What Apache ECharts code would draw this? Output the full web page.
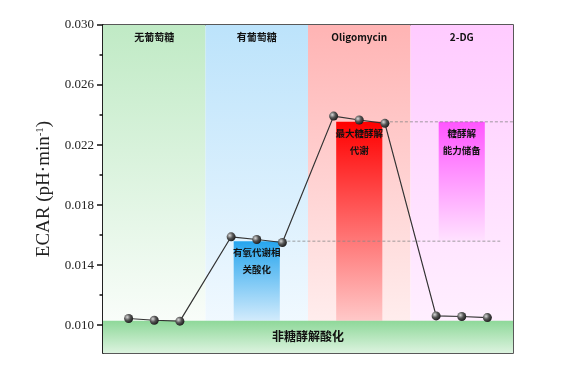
<!DOCTYPE html>
<html><head><meta charset="utf-8">
<script src="https://cdn.jsdelivr.net/npm/echarts@6/dist/echarts.min.js"></script>
<style>html,body{margin:0;padding:0;background:#fff}#c{width:567px;height:378px}</style>
</head><body><div id="c"></div>
<script>
// ---- data ----
const phases = ['无葡萄糖', '有葡萄糖', 'Oligomycin', '2-DG'];
const ecar = [0.01045, 0.01033, 0.01027, 0.01589, 0.01571, 0.01551, 0.02393, 0.02367, 0.02345, 0.01062, 0.01058, 0.01051];
const nonGlycolytic = 0.0103;
const glycolysis = 0.0156;
const maxCapacity = 0.02355;
const yTicks = [0.010, 0.014, 0.018, 0.022, 0.026, 0.030];
const yMinorTicks = [0.012, 0.016, 0.020, 0.024, 0.028];
const barPhases = [1, 2, 3];
const barLows = [nonGlycolytic, nonGlycolytic, glycolysis];
const barHighs = [glycolysis, maxCapacity, maxCapacity];
const barLabels = ['有氧代谢相\n关酸化', '最大糖酵解\n代谢', '糖酵解\n能力储备'];
const bandLabel = '非糖酵解酸化';
const yMin = 0.00815, yMax = 0.030;

// ---- layout helpers ----
const perPhase = 3, slot = 4;
const xOf = i => Math.floor(i / perPhase) * slot + (i % perPhase) + 1;
const xEnd = phases.length * slot;
const grad = (a, b) => new echarts.graphic.LinearGradient(0, 0, 0, 1, [{offset: 0, color: a}, {offset: 1, color: b}]);
const regionColors = [['#c0eac5', '#ffffff'], ['#bce3fb', '#f6fbff'], ['#ffb4b4', '#fff3f3'], ['#ffcbff', '#fff3ff']];
const barColors = [['#26a5ee', '#d2ebfc'], ['#ff0000', '#ffc8c8'], ['#ff55ff', '#ffe2ff']];
const cjk = '"Noto Sans CJK SC", "Noto Sans", sans-serif';
const serif = '"Liberation Serif", "Times New Roman", serif';

const chart = echarts.init(document.getElementById('c'));
chart.setOption({
  animation: false,
  grid: {left: 103, right: 54, top: 25, bottom: 25, show: true, borderColor: '#222', borderWidth: 1.5, backgroundColor: 'transparent'},
  xAxis: {type: 'value', min: 0, max: xEnd, show: false},
  yAxis: [{
    type: 'value', min: yMin, max: yMax, position: 'left',
    axisLine: {show: true, lineStyle: {color: '#111', width: 1.5}},
    axisTick: {show: true, inside: false, length: 6, lineStyle: {color: '#111', width: 1.5}, customValues: yTicks},
    axisLabel: {customValues: yTicks, formatter: v => v.toFixed(3), fontFamily: serif, fontSize: 13, color: '#222', margin: 9},
    splitLine: {show: false},
    name: '{a|ECAR (pH·min}{s|-1}{a|)}', nameLocation: 'middle', nameGap: 42,
    nameTextStyle: {rich: {a: {fontFamily: serif, fontSize: 19, color: '#222'}, s: {fontFamily: serif, fontSize: 11, color: '#222', verticalAlign: 'top', padding: [0, 0, 9, 0]}}}
  }, {
    type: 'value', min: yMin, max: yMax, position: 'left', offset: 0,
    axisLine: {show: false},
    axisTick: {show: true, inside: false, length: 3.5, lineStyle: {color: '#111', width: 1.5}, customValues: yMinorTicks},
    axisLabel: {show: false}, splitLine: {show: false}
  }],
  series: [
    {
      type: 'custom', z: 1, data: phases.map((p, i) => [i]),
      renderItem: (params, api) => {
        const i = api.value(0);
        const p0 = api.coord([i * slot, yMax]), p1 = api.coord([(i + 1) * slot, yMin]);
        return {type: 'group', children: [
          {type: 'rect', shape: {x: p0[0], y: p0[1], width: p1[0] - p0[0], height: p1[1] - p0[1]}, style: {fill: grad(regionColors[i][0], regionColors[i][1])}},
          {type: 'text', z2: 10, style: {text: phases[i], x: (p0[0] + p1[0]) / 2, y: p0[1] + 12, align: 'center', verticalAlign: 'middle', fontSize: 10, fontWeight: 'bold', fontFamily: cjk, fill: '#111'}}
        ]};
      }
    },
    {
      type: 'custom', z: 2, data: barPhases.map((p, i) => [p, barLows[i], barHighs[i], i]),
      renderItem: (params, api) => {
        const ph = api.value(0), k = api.value(3);
        const c = ph * slot + slot / 2;
        const p0 = api.coord([c - 0.9, api.value(2)]), p1 = api.coord([c + 0.9, api.value(1)]);
        return {type: 'group', children: [
          {type: 'rect', shape: {x: p0[0], y: p0[1], width: p1[0] - p0[0], height: p1[1] - p0[1]}, style: {fill: grad(barColors[k][0], barColors[k][1])}},
          {type: 'text', z2: 10, style: {text: barLabels[k], x: (p0[0] + p1[0]) / 2, y: p0[1] + 3, align: 'center', verticalAlign: 'top', fontSize: 9.5, lineHeight: 17, fontWeight: 'bold', fontFamily: cjk, fill: '#111'}}
        ]};
      }
    },
    {
      type: 'custom', z: 3, data: [[nonGlycolytic]],
      renderItem: (params, api) => {
        const p0 = api.coord([0, api.value(0)]), p1 = api.coord([xEnd, yMin]);
        return {type: 'group', children: [
          {type: 'rect', shape: {x: p0[0], y: p0[1], width: p1[0] - p0[0], height: p1[1] - p0[1]}, style: {fill: grad('#8ed899', '#dcf3df')}},
          {type: 'text', z2: 10, style: {text: bandLabel, x: (p0[0] + p1[0]) / 2, y: (p0[1] + p1[1]) / 2, align: 'center', verticalAlign: 'middle', fontSize: 12, fontWeight: 'bold', fontFamily: cjk, fill: '#111'}}
        ]};
      }
    },
    {
      type: 'line', z: 4, symbol: 'none', silent: true,
      data: [[xOf(5), glycolysis], [xEnd - 0.5, glycolysis]],
      lineStyle: {color: '#888', width: 0.8, type: [3, 2]}
    },
    {
      type: 'line', z: 4, symbol: 'none', silent: true,
      data: [[xOf(8), maxCapacity], [xEnd, maxCapacity]],
      lineStyle: {color: '#888', width: 0.8, type: [3, 2]}
    },
    {
      type: 'line', z: 5, symbol: 'circle', symbolSize: 9,
      data: ecar.map((v, i) => [xOf(i), v]),
      lineStyle: {color: '#333', width: 1.2},
      itemStyle: {color: new echarts.graphic.RadialGradient(0.35, 0.35, 0.75, [{offset: 0, color: '#d8d8d8'}, {offset: 0.45, color: '#555'}, {offset: 1, color: '#111'}]), borderWidth: 0}
    }
  ]
});
</script></body></html>
